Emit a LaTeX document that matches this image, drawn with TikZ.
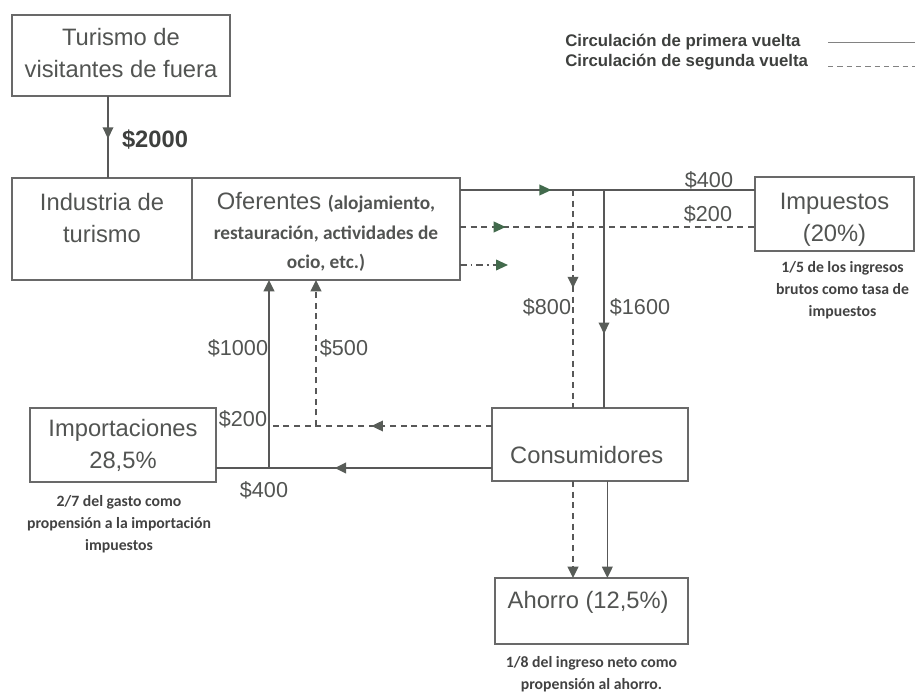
\documentclass[tikz,border=0pt]{standalone}
\usepackage{fontspec}
\setmainfont{Liberation Sans}
\setsansfont{Liberation Sans}
\newfontfamily\noteFont{Carlito}
\usetikzlibrary{arrows.meta, positioning, calc, decorations.markings}
\definecolor{cBoxDraw}{RGB}{105, 105, 105}
\definecolor{cText}{RGB}{82, 84, 82}
\definecolor{cTextDark}{RGB}{62, 64, 62}
\definecolor{cNote}{RGB}{66, 66, 66}
\definecolor{cLine}{RGB}{88, 88, 88}
\definecolor{cLegendLine}{RGB}{130, 130, 130}
\definecolor{cHeadGreen}{RGB}{66, 106, 76}
\definecolor{cHeadGray}{RGB}{88, 92, 88}
\newcommand{\ofertaFont}{\noteFont\bfseries\fontsize{14.5}{22}\selectfont}
\tikzset{
    % --- 方框 ---
    baseBox/.style={
        rectangle, draw=cBoxDraw, line width=1.3pt, fill=white,
        text=cText, align=center, inner sep=0pt, outer sep=0pt,
        font=\fontsize{17.8}{24}\selectfont
    },
    % --- 文字 ---
    noteText/.style={
        text=cNote, align=center, inner sep=0pt,
        font=\noteFont\bfseries\fontsize{11.8}{16.5}\selectfont
    },
    valueLabel/.style={text=cText, inner sep=0pt, font=\fontsize{16.2}{19}\selectfont},
    legendText/.style={text=cTextDark, inner sep=0pt, font=\bfseries\fontsize{12.6}{15}\selectfont},
    % --- 箭头 ---
    headGray/.tip={Triangle[length=8.5pt, width=8pt, color=cHeadGray]},
    headGreen/.tip={Triangle[length=9pt, width=8pt, color=cHeadGreen]},
    midArrowGray/.style={postaction={decorate,
        decoration={markings, mark=at position #1 with {\arrow{headGray}}}}},
    midArrowGreen/.style={postaction={decorate,
        decoration={markings, mark=at position #1 with {\arrow{headGreen}}}}},
    % --- 连线 ---
    firstRound/.style={draw=cLine, line width=1.25pt},
    secondRound/.style={draw=cLine, line width=1.25pt, dash pattern=on 4.5pt off 3.5pt},
    thirdRound/.style={draw=cLine, line width=1.25pt, dash pattern=on 5pt off 3pt on 1.2pt off 3pt},
    legendLine/.style={draw=cLegendLine, line width=0.7pt}
}

\begin{document}
\begin{tikzpicture}[x=0.75pt, y=-0.75pt]
    \useasboundingbox (0,0) rectangle (915,692);

    % =========================================================
    % 1. 方框
    % =========================================================

    \node [baseBox, minimum width=163.5pt, minimum height=60.75pt] (turismo) at (121,55.5) {
        Turismo de\\visitantes de fuera\rule[-4.5pt]{0pt}{0pt}
    };

    \node [baseBox, minimum width=135pt, minimum height=76.5pt] (industria) at (102,229) {
        Industria de\\turismo\\[-8pt]~
    };

    \node [baseBox, minimum width=201pt, minimum height=76.5pt, right=0pt of industria,
        font=\fontsize{17.8}{22}\selectfont] (oferentes) {
        \rule{0pt}{17.3pt}Oferentes {\ofertaFont (alojamiento,}\\[0.8pt]
        {\ofertaFont restauración, actividades de}\\
        {\ofertaFont ocio, etc.)}
    };

    \node [baseBox, minimum width=119.25pt, minimum height=55.5pt] (impuestos) at (834.5,214) {
        \rule{0pt}{20.2pt}Impuestos\\(20\%)
    };

    \node [baseBox, minimum width=147pt, minimum height=54.75pt, text height=28pt, text depth=0pt] (consumidores) at (590,444.5) {
        Consumidores
    };

    \node [baseBox, minimum width=144.75pt, minimum height=49.5pt, text depth=17pt] (ahorro) at (591.5,611) {
        Ahorro (12,5\%)
    };

    \node [baseBox, minimum width=139.5pt, minimum height=55.5pt] (importaciones) at (123,445) {
        Importaciones\\28,5\%
    };

    % 说明文字
    \node [noteText, below=8pt of impuestos, xshift=6pt] (notaImpuestos) {
        1/5 de los ingresos\\brutos como tasa de\\impuestos
    };
    \node [noteText, below=10pt of importaciones, xshift=-3pt] (notaImportaciones) {
        2/7 del gasto como\\propensión a la importación\\impuestos
    };
    \node [noteText, below=9.5pt of ahorro] (notaAhorro) {
        1/8 del ingreso neto como\\propensión al ahorro.
    };

    % 图例
    \node [legendText, anchor=west] (legendA) at (565,42) {Circulación de primera vuelta};
    \node [legendText, anchor=west] (legendB) at (565,62) {Circulación de segunda vuelta};
    \draw [legendLine] ($(legendA.west)+(263,0)$) -- ++(90,0);
    \draw [legendLine, dash pattern=on 4pt off 3pt] ($(legendB.west)+(263,4)$) -- ++(90,0);

    % =========================================================
    % 2. 连线
    % =========================================================

    \coordinate (colT) at (108,0);
    \coordinate (colA) at (573,0);
    \coordinate (colB) at (604,0);
    \coordinate (colE) at (269,0);
    \coordinate (colF) at (316,0);
    \coordinate (rowA) at (0,190);
    \coordinate (rowB) at (0,227);
    \coordinate (rowC) at (0,265);
    \coordinate (rowD) at (0,426);
    \coordinate (rowE) at (0,468);
    \coordinate (tipC) at (508,265);

    % 游客 -> 产业
    \draw [firstRound, midArrowGray=0.52] (turismo.south -| colT) -- (industria.north -| colT);

    % 供给方 -> 税 / 消费者
    \draw [firstRound, midArrowGreen=0.31] (oferentes.east |- rowA) -- (impuestos.west |- rowA);
    \draw [secondRound, midArrowGreen=0.155] (oferentes.east |- rowB) -- (impuestos.west |- rowB);
    \draw [thirdRound, -{headGreen}] (oferentes.east |- rowC) -- (tipC);
    \draw [secondRound, midArrowGray=0.45] (colA |- rowA) -- (consumidores.north -| colA);
    \draw [firstRound, midArrowGray=0.66] (colB |- rowA) -- (consumidores.north -| colB);

    % 消费者 -> 进口 / 供给方
    \draw [firstRound, midArrowGray=0.57] (consumidores.west |- rowE) -- (importaciones.east |- rowE);
    \draw [secondRound, midArrowGray=0.54] (consumidores.west |- rowD) -- (colE |- rowD);
    \draw [firstRound, -{headGray}] (colE |- rowE) -- (oferentes.south -| colE);
    \draw [secondRound, -{headGray}] (colF |- rowD) -- (oferentes.south -| colF);

    % 消费者 -> 储蓄
    \draw [secondRound, -{headGray}] (consumidores.south -| colA) -- (ahorro.north -| colA);
    \draw [firstRound, -{headGray}] ([xshift=2.5pt]consumidores.south -| colB) -- ([xshift=2.5pt]ahorro.north -| colB);

    % =========================================================
    % 3. 金额
    % =========================================================

    \node [valueLabel, text=cTextDark, font=\bfseries\fontsize{17.8}{20}\selectfont] (lblTurismo) at (155,140) {\$2000};
    \node [valueLabel] (lblImpA) at (709,180) {\$400};
    \node [valueLabel] (lblImpB) at (708,214) {\$200};
    \node [valueLabel] (lblConsB) at (547,307) {\$800};
    \node [valueLabel] (lblConsA) at (640,307) {\$1600};
    \node [valueLabel] (lblOfA) at (238,348) {\$1000};
    \node [valueLabel] (lblOfB) at (344,348) {\$500};
    \node [valueLabel] (lblImpoB) at (243,419) {\$200};
    \node [valueLabel] (lblImpoA) at (264,490) {\$400};

\end{tikzpicture}
\end{document}
